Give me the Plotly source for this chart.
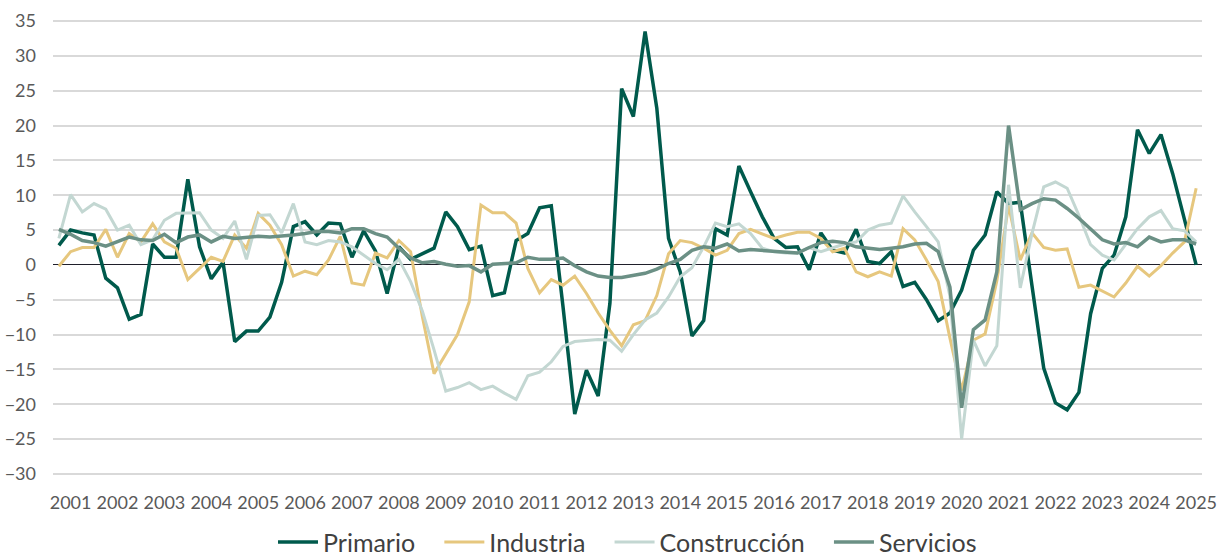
import plotly.graph_objects as go

years = [str(y) for y in range(2001, 2026)]

primario = [2.8, 5.0, 4.6, 4.3, -1.9, -3.3, -7.8, -7.1, 3.0, 1.1, 1.1, 12.3, 2.6, -2.0, 0.4, -11.0,
            -9.5, -9.5, -7.5, -2.5, 5.5, 6.2, 4.3, 6.0, 5.9, 1.1, 4.9, 2.0, -4.1, 2.6, 0.8, 1.6,
            2.4, 7.6, 5.5, 2.2, 2.7, -4.4, -4.0, 3.5, 4.5, 8.2, 8.5, -6.0, -21.4, -15.1, -18.8, -5.5,
            25.3, 21.3, 33.5, 22.5, 3.8, -1.0, -10.2, -8.0, 5.2, 4.3, 14.2, 10.5, 6.9, 3.8, 2.5, 2.6,
            -0.7, 4.6, 2.1, 1.7, 5.1, 0.5, 0.2, 1.9, -3.1, -2.5, -5.0, -8.0, -6.9, -3.6, 2.1, 4.3,
            10.5, 8.8, 9.0, -3.0, -14.8, -19.8, -20.8, -18.3, -7.0, -0.5, 1.4, 6.9, 19.4, 16.0, 18.7, 13.1,
            6.7, 0.0]

industria = [-0.2, 1.9, 2.5, 2.5, 5.1, 1.1, 4.5, 3.3, 5.9, 3.3, 2.4, -2.1, -0.5, 1.1, 0.5, 4.3,
             2.4, 7.4, 5.7, 2.9, -1.6, -0.9, -1.4, 0.7, 4.1, -2.6, -2.9, 1.7, 1.0, 3.5, 1.9, -7.4,
             -15.6, -12.9, -10.0, -5.3, 8.6, 7.5, 7.5, 6.0, -0.5, -4.0, -2.1, -2.9, -1.6, -4.1, -6.9, -9.4,
             -11.6, -8.6, -8.0, -4.4, 1.6, 3.5, 3.2, 2.4, 1.4, 2.1, 4.5, 5.1, 4.5, 3.8, 4.3, 4.7,
             4.7, 3.8, 1.9, 2.4, -1.0, -1.7, -1.0, -1.6, 5.2, 3.6, 0.7, -2.4, -10.5, -18.0, -10.8, -9.9,
             -2.3, 8.5, 0.7, 4.6, 2.5, 2.1, 2.3, -3.2, -2.9, -3.8, -4.6, -2.6, -0.2, -1.6, -0.1, 1.7,
             3.3, 11.0]

construccion = [3.8, 10.1, 7.6, 8.8, 8.0, 5.0, 5.7, 2.9, 3.6, 6.4, 7.4, 7.4, 7.5, 5.0, 3.8, 6.3,
                0.8, 7.1, 7.2, 4.6, 8.8, 3.3, 2.9, 3.5, 3.3, 2.6, 1.4, 0.2, -0.7, 0.8, -2.4, -6.6,
                -12.2, -18.1, -17.6, -16.9, -17.9, -17.4, -18.4, -19.3, -15.9, -15.4, -13.9, -11.7, -11.0, -10.9, -10.7, -10.8,
                -12.4, -10.0, -7.9, -6.9, -4.6, -1.7, -0.4, 2.6, 6.0, 5.5, 5.9, 4.5, 2.4, 1.9, 1.7, 1.7,
                2.5, 1.9, 2.4, 3.0, 3.3, 5.0, 5.7, 6.0, 9.9, 7.6, 5.5, 3.3, -4.5, -25.0, -10.8, -14.5,
                -11.6, 11.5, -3.3, 4.5, 11.2, 11.9, 11.0, 7.1, 2.9, 1.4, 0.7, 2.9, 5.2, 6.9, 7.8, 5.2,
                4.9, 3.3]

servicios = [5.1, 4.4, 3.5, 3.2, 2.7, 3.3, 4.0, 3.6, 3.5, 4.4, 3.2, 4.0, 4.3, 3.3, 4.1, 3.8,
             3.9, 4.1, 4.0, 4.1, 4.3, 4.5, 4.8, 4.8, 4.6, 5.2, 5.2, 4.5, 4.0, 2.4, 1.0, 0.3,
             0.5, 0.1, -0.2, -0.1, -1.0, 0.1, 0.2, 0.3, 1.1, 0.8, 0.8, 1.0, -0.1, -1.0, -1.6, -1.8,
             -1.8, -1.5, -1.2, -0.6, 0.2, 0.8, 2.1, 2.6, 2.4, 3.0, 2.0, 2.2, 2.1, 2.0, 1.9, 1.7,
             2.5, 3.2, 3.4, 3.2, 2.6, 2.4, 2.2, 2.4, 2.6, 3.0, 3.1, 1.9, -3.2, -20.5, -9.3, -7.9,
             -1.0, 20.0, 7.9, 8.8, 9.5, 9.3, 8.1, 6.7, 5.2, 3.6, 3.0, 3.2, 2.6, 4.0, 3.3, 3.6,
             3.6, 3.0]

series = [
    ("Primario", primario, "#005A4C", 3.5),
    ("Industria", industria, "#E6C77E", 3.0),
    ("Construcción", construccion, "#C3D7D2", 3.0),
    ("Servicios", servicios, "#6B9085", 3.5),
]

x = list(range(len(primario)))
tickvals = [1 + 4 * k for k in range(len(years))]

fig = go.Figure()
for i, (name, vals, color, w) in enumerate(series):
    label = name if i == len(series) - 1 else name + "\u00a0\u00a0\u00a0"
    fig.add_trace(go.Scatter(x=x, y=vals, name=label, mode="lines",
                             line=dict(color=color, width=w)))

font_family = "Lato, 'Source Sans Pro', sans-serif"
fig.update_layout(
    width=1227, height=558,
    margin=dict(l=53, r=25, t=20, b=83, autoexpand=False),
    paper_bgcolor="white", plot_bgcolor="white",
    font=dict(family=font_family, color="#595959", size=18),
    showlegend=True,
    legend=dict(orientation="h", x=0.5, xanchor="center", y=-0.148, yanchor="middle",
                font=dict(size=25, color="#404040"), itemwidth=40, traceorder="normal"),
)
fig.update_xaxes(range=[-0.5, 97.5], tickmode="array", tickvals=tickvals, ticktext=years,
                 showgrid=False, zeroline=False, showline=False, ticks="", automargin=False,
                 ticklabelstandoff=15, tickfont=dict(size=18, color="#595959"))
fig.update_yaxes(range=[-30.15, 35.15], tickmode="array", tickvals=list(range(-30, 40, 5)),
                 showgrid=True, gridcolor="#D9D9D9", gridwidth=1.5, automargin=False,
                 zeroline=True, zerolinecolor="#1F1F2A", zerolinewidth=1.2,
                 showline=False, ticks="", ticklabelstandoff=16,
                 tickfont=dict(size=18, color="#595959"))

fig.write_html("out.html", config={"displayModeBar": False},
               post_script="document.body.style.margin='0';document.body.style.overflow='hidden';")
